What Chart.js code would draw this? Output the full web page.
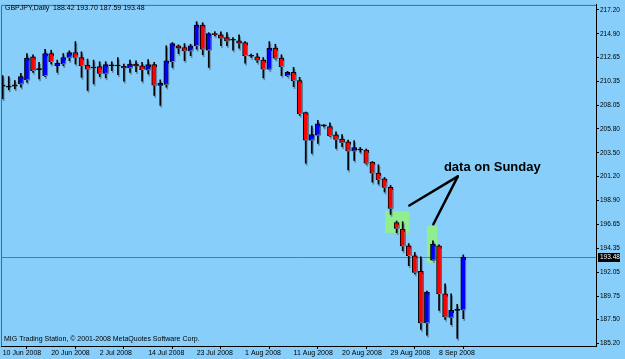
<!DOCTYPE html>
<html>
<head>
<meta charset="utf-8">
<script src="https://cdn.jsdelivr.net/npm/chart.js@4.4.0/dist/chart.umd.min.js"></script>
<style>
  html, body { margin: 0; padding: 0; background: #87cefa; }
  #wrap { width: 625px; height: 359px; }
</style>
</head>
<body>
<div id="wrap"><canvas id="chart" width="625" height="359"></canvas></div>
<script>
// GBPJPY daily bars, 10 Jun - 12 Sep 2008
const opens = [
  209.88, 209.78, 209.88, 210.10, 210.48, 212.70, 211.46, 210.89, 213.01, 211.84,
  212.00, 212.63, 213.11, 212.63, 211.90, 211.62, 211.75, 211.11, 211.84, 211.81,
  211.78, 211.62, 212.00, 211.84, 211.43, 211.94, 209.94, 210.04, 212.22, 213.75,
  213.58, 213.27, 213.77, 215.74, 213.33, 214.91, 214.79, 214.53, 214.28, 214.22,
  214.06, 212.76, 212.70, 212.38, 211.52, 213.52, 212.57, 210.89, 211.20, 210.42,
  207.34, 204.71, 205.19, 206.07, 206.01, 205.22, 204.81, 204.55, 203.67, 203.76,
  203.76, 202.59, 201.54, 200.99, 200.18, 196.79, 196.16, 194.57, 193.62, 192.13,
  187.19, 193.21, 194.57, 189.98, 187.70, 188.39, 188.42
];
const highs = [
  210.89, 210.80, 210.42, 211.11, 213.01, 212.89, 212.16, 213.42, 213.33, 212.38,
  213.01, 213.27, 214.15, 213.17, 212.47, 212.38, 212.22, 212.22, 212.22, 212.63,
  212.00, 212.38, 212.32, 212.16, 212.44, 212.16, 210.48, 213.75, 214.06, 213.84,
  213.96, 213.90, 216.06, 215.96, 215.01, 215.10, 215.10, 215.01, 214.53, 214.79,
  214.15, 212.95, 213.01, 212.63, 214.15, 213.90, 212.89, 211.30, 211.68, 210.73,
  207.40, 206.07, 206.61, 206.20, 206.36, 205.50, 205.25, 204.71, 204.65, 204.01,
  203.86, 202.65, 202.34, 201.13, 200.37, 196.95, 196.88, 194.79, 193.94, 193.53,
  190.23, 195.05, 194.67, 190.93, 189.98, 188.96, 193.70
];
const lows = [
  208.67, 209.53, 209.62, 209.78, 210.26, 211.20, 210.57, 210.80, 212.00, 211.20,
  211.84, 212.32, 212.00, 210.73, 209.47, 210.10, 210.80, 210.67, 211.37, 210.99,
  210.35, 211.20, 211.27, 210.35, 211.05, 208.99, 208.04, 209.78, 211.68, 213.01,
  212.32, 212.80, 213.42, 212.89, 211.68, 214.70, 213.75, 213.75, 213.33, 213.52,
  212.09, 212.63, 212.16, 210.67, 211.45, 212.47, 210.89, 210.80, 209.83, 207.09,
  202.49, 203.44, 204.39, 205.98, 205.03, 203.92, 204.08, 201.86, 202.75, 203.54,
  202.40, 200.68, 200.49, 199.73, 197.59, 195.84, 194.10, 192.67, 191.88, 186.56,
  186.02, 193.15, 188.39, 187.51, 187.02, 185.70, 187.59
];
const closes = [
  209.88, 209.78, 210.00, 210.80, 212.57, 211.37, 211.46, 213.01, 212.22, 212.06,
  212.63, 213.11, 212.63, 211.84, 211.52, 211.62, 211.11, 211.94, 211.84, 211.81,
  211.62, 212.00, 211.81, 211.46, 211.94, 209.97, 210.16, 212.32, 213.96, 213.52,
  213.27, 213.75, 215.74, 213.42, 214.91, 214.82, 214.47, 214.22, 214.28, 213.99,
  212.80, 212.76, 212.38, 211.52, 213.52, 212.57, 211.75, 211.20, 210.40, 207.24,
  204.71, 205.25, 206.26, 206.07, 205.12, 204.77, 204.49, 203.67, 203.98, 203.76,
  202.49, 201.54, 200.91, 200.18, 198.16, 196.25, 194.57, 193.62, 192.03, 187.19,
  190.13, 194.73, 189.98, 187.76, 188.39, 188.39, 193.48
];

// time axis: bar index of each date label
const tickBars = [0, 8, 16, 24, 32, 40, 48, 56, 64, 72];
const tickLabels = ['10 Jun 2008', '20 Jun 2008', '2 Jul 2008', '14 Jul 2008', '23 Jul 2008',
                    '1 Aug 2008', '11 Aug 2008', '20 Aug 2008', '29 Aug 2008', '8 Sep 2008'];
const priceTicks = [217.20, 214.90, 212.65, 210.35, 208.05, 205.80, 203.50, 201.20,
                    198.90, 196.65, 194.35, 192.05, 189.75, 187.50, 185.20];

// marked Sunday bars (bar index range, price range) and the callout
const sundayBoxes = [
  { from: 63.1, to: 67.1, top: 197.90, bottom: 195.81 },
  { from: 70.0, to: 71.7, top: 196.47, bottom: 192.96 }
];
const noteText = 'data on Sunday';
const noteAt = { x: 72.8, y: 202.08 };
const arrowFrom = { x: 75.1, y: 201.23 };
const arrowTo = [{ x: 67.1, y: 198.44 }, { x: 71.06, y: 196.64 }];

const FONT = "'Liberation Sans', Arial, sans-serif";

const bodies = opens.map((o, i) => ({ x: i, y: [o, closes[i]] }));
const wicks = lows.map((l, i) => ({ x: i, y: [l, highs[i]] }));
const bodyColors = opens.map((o, i) => closes[i] > o ? '#0000ff' : (closes[i] < o ? '#ff0000' : '#000000'));

const chartDecor = {
    id: 'chartDecor',
    beforeDraw(chart) {
        const c = chart.ctx;
        c.save();
        c.fillStyle = '#87cefa';
        c.fillRect(0, 0, chart.width, chart.height);
        c.restore();
    },
    beforeDatasetsDraw(chart) {
        const c = chart.ctx;
        const { x, y } = chart.scales;
        const area = chart.chartArea;

        // green marker boxes
        c.save();
        c.fillStyle = '#90ee90';
        sundayBoxes.forEach(b => {
            const x0 = x.getPixelForValue(b.from), x1 = x.getPixelForValue(b.to);
            const y0 = y.getPixelForValue(b.top), y1 = y.getPixelForValue(b.bottom);
            c.fillRect(x0, y0, x1 - x0, y1 - y0);
        });

        // last close line
        const yc = Math.round(y.getPixelForValue(closes[closes.length - 1])) + 0.5;
        c.strokeStyle = '#5a7a94';
        c.lineWidth = 1;
        c.beginPath();
        c.moveTo(area.left, yc);
        c.lineTo(area.right, yc);
        c.stroke();
        c.restore();

        // candle drop shadow
        c.save();
        c.shadowColor = '#5e87a3';
        c.shadowOffsetX = 1;
        c.shadowOffsetY = 2;
        c.shadowBlur = 0;
    },
    afterDatasetsDraw(chart) {
        chart.ctx.restore();
    },
    afterDraw(chart) {
        const c = chart.ctx;
        const { x, y } = chart.scales;
        const area = chart.chartArea;
        c.save();

        // frame top / left
        c.strokeStyle = '#4a6b88';
        c.lineWidth = 1;
        c.beginPath();
        c.moveTo(area.left + 0.5, area.bottom);
        c.lineTo(area.left + 0.5, area.top + 0.5);
        c.lineTo(area.right, area.top + 0.5);
        c.stroke();

        // last price label
        const last = closes[closes.length - 1];
        const yc = Math.round(y.getPixelForValue(last)) + 0.5;
        c.fillStyle = '#000';
        c.fillRect(area.right + 2, yc - 4.5, 22, 9);
        c.fillStyle = '#fff';
        c.font = '6.5px ' + FONT;
        c.textBaseline = 'middle';
        c.textAlign = 'left';
        c.fillText(last.toFixed(2), area.right + 4, yc);

        // header and copyright
        c.fillStyle = '#000';
        c.font = '7px ' + FONT;
        c.textBaseline = 'middle';
        const n = closes.length - 1;
        c.fillText('GBPJPY,Daily  ' + [opens[n], highs[n], lows[n], closes[n]].map(v => v.toFixed(2)).join(' '), 5, 8);
        c.fillText('MIG Trading Station, \u00a9 2001-2008 MetaQuotes Software Corp.', 4, 339.5);

        // callout
        c.strokeStyle = '#000';
        c.lineWidth = 2.5;
        c.lineCap = 'round';
        arrowTo.forEach(p => {
            c.beginPath();
            c.moveTo(x.getPixelForValue(arrowFrom.x), y.getPixelForValue(arrowFrom.y));
            c.lineTo(x.getPixelForValue(p.x), y.getPixelForValue(p.y));
            c.stroke();
        });
        c.font = 'bold 13px ' + FONT;
        c.textBaseline = 'middle';
        c.fillText(noteText, x.getPixelForValue(noteAt.x), y.getPixelForValue(noteAt.y));
        c.restore();
    }
};

new Chart(document.getElementById('chart'), {
    type: 'bar',
    data: {
        datasets: [
            {
                label: 'body',
                data: bodies,
                backgroundColor: bodyColors,
                borderColor: '#000000',
                borderWidth: 1,
                borderSkipped: false,
                barThickness: 5,
                minBarLength: 1,
                grouped: false
            },
            {
                label: 'wick',
                data: wicks,
                backgroundColor: '#000000',
                borderWidth: 0,
                barThickness: 1,
                grouped: false
            }
        ]
    },
    options: {
        responsive: false,
        animation: false,
        devicePixelRatio: 1,
        layout: { padding: { left: 1, top: 2, right: 0, bottom: 0 } },
        plugins: {
            legend: { display: false },
            tooltip: { enabled: false }
        },
        scales: {
            x: {
                type: 'linear',
                min: -0.28,
                max: 97.9,
                offset: false,
                afterBuildTicks: s => { s.ticks = tickBars.map(v => ({ value: v })); },
                afterFit: s => { s.height = 13; },
                ticks: {
                    autoSkip: false,
                    maxRotation: 0,
                    align: 'start',
                    padding: 0,
                    color: '#000',
                    font: { family: FONT, size: 7 },
                    callback: v => tickLabels[tickBars.indexOf(v)]
                },
                grid: { drawOnChartArea: false, tickLength: 3, color: '#000' },
                border: { color: '#000' }
            },
            y: {
                type: 'linear',
                position: 'right',
                min: 184.97,
                max: 217.67,
                afterBuildTicks: s => { s.ticks = priceTicks.map(v => ({ value: v })); },
                afterFit: s => { s.width = 29; },
                ticks: {
                    padding: 1,
                    color: '#000',
                    font: { family: FONT, size: 6.5 },
                    callback: v => v.toFixed(2)
                },
                grid: { drawOnChartArea: false, tickLength: 3, color: '#000' },
                border: { color: '#000' }
            }
        }
    },
    plugins: [chartDecor]
});
</script>
</body>
</html>
